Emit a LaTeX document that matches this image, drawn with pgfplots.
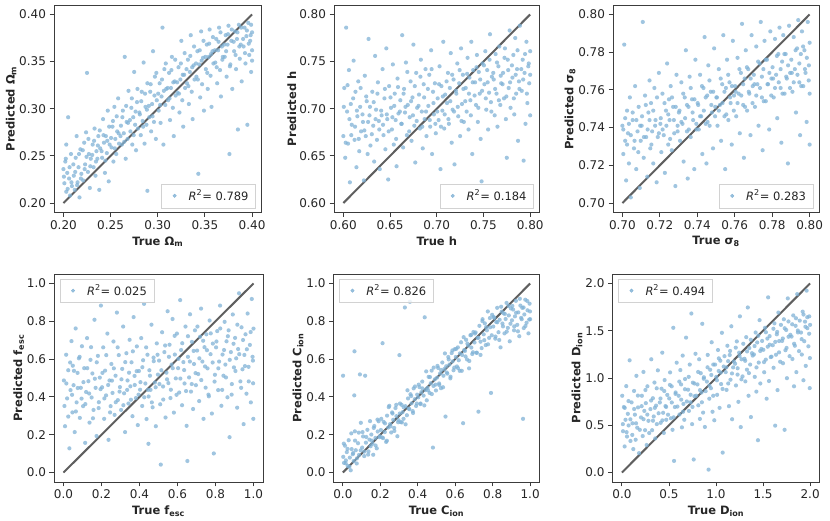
\documentclass[border=0pt]{standalone}
\usepackage{fontspec}
\setmainfont{DejaVu Sans}
\usepackage{pgfplots}
\pgfplotsset{compat=1.18}
\definecolor{ptcol}{RGB}{128,178,214}
\definecolor{spinecol}{RGB}{60,60,60}
\definecolor{labelcol}{RGB}{38,38,38}
\definecolor{linecol}{RGB}{95,95,95}
\definecolor{legedge}{RGB}{210,210,210}
\pgfplotsset{
  panel/.style={
    scale only axis, height=207.5pt,
    axis line style={spinecol, line width=0.9pt},
    tick style={spinecol, line width=0.9pt},
    major tick length=4.5pt, tick align=outside,
    xtick pos=bottom, ytick pos=left,
    ticklabel style={font=\fontsize{12}{13}\selectfont, text=labelcol},
    label style={font=\bfseries\fontsize{11.5}{13}\selectfont, text=labelcol},
    ylabel shift=-4pt,
    /pgf/number format/assume math mode=true,
    /pgf/number format/fixed, /pgf/number format/fixed zerofill,
    legend cell align=left,
    legend style={draw=legedge, fill=white, fill opacity=0.8, text opacity=1,
      font=\fontsize{11.5}{13}\selectfont, text=labelcol, inner xsep=3pt, inner ysep=2pt,
      nodes={inner xsep=4pt, inner ysep=4pt}},
    legend image code/.code={\path[draw=none,fill=none] (0pt,0pt) (20pt,0pt); \fill[ptcol] (10pt,0pt) circle (1.7pt);},
  },
  pts/.style={only marks, mark=*, color=ptcol, mark size=2.1pt, mark options={draw opacity=0, fill=ptcol, fill opacity=0.75}},
  diag/.style={forget plot, color=linecol, line width=2pt},
  legbr/.style={legend style={at={(0.972,0.022)}, anchor=south east}},
  legtl/.style={legend style={at={(0.028,0.978)}, anchor=north west}},
}
\begin{document}
\begin{tikzpicture}
\useasboundingbox (0pt,0pt) rectangle (830pt,521pt);
% ---------------- Panel 1 ----------------
\begin{axis}[panel, legbr, at={(54pt,308.5pt)}, anchor=south west, width=207.5pt,
  xmin=0.19, xmax=0.41, ymin=0.19, ymax=0.41,
  xtick={0.20,0.25,0.30,0.35,0.40}, ytick={0.20,0.25,0.30,0.35,0.40},
  /pgf/number format/precision=2,
  xlabel={True Ω\textsubscript{m}}, ylabel={Predicted Ω\textsubscript{m}}]
\addplot[pts] table {
x y
0.201 0.221
0.202 0.244
0.203 0.212
0.204 0.232
0.205 0.291
0.206 0.226
0.207 0.208
0.208 0.252
0.209 0.218
0.200 0.236
0.203 0.262
0.211 0.229
0.212 0.214
0.213 0.248
0.214 0.271
0.215 0.222
0.216 0.238
0.217 0.206
0.218 0.257
0.219 0.231
0.221 0.224
0.222 0.264
0.223 0.241
0.224 0.275
0.225 0.338
0.226 0.233
0.227 0.252
0.228 0.216
0.229 0.247
0.231 0.262
0.232 0.238
0.233 0.279
0.234 0.229
0.235 0.255
0.236 0.247
0.237 0.271
0.238 0.214
0.239 0.258
0.241 0.248
0.242 0.289
0.243 0.264
0.244 0.232
0.245 0.271
0.246 0.253
0.247 0.298
0.248 0.223
0.249 0.262
0.251 0.259
0.252 0.281
0.253 0.244
0.254 0.302
0.255 0.268
0.256 0.252
0.257 0.276
0.258 0.311
0.259 0.263
0.261 0.282
0.262 0.262
0.263 0.298
0.264 0.274
0.265 0.355
0.266 0.247
0.267 0.286
0.268 0.268
0.269 0.319
0.271 0.276
0.272 0.301
0.273 0.262
0.274 0.291
0.275 0.339
0.276 0.283
0.277 0.256
0.278 0.307
0.279 0.279
0.281 0.294
0.282 0.272
0.283 0.318
0.284 0.287
0.285 0.349
0.286 0.263
0.287 0.302
0.288 0.283
0.289 0.213
0.289 0.327
0.291 0.291
0.292 0.318
0.293 0.276
0.294 0.305
0.295 0.361
0.296 0.286
0.297 0.334
0.298 0.268
0.299 0.309
0.301 0.298
0.302 0.327
0.303 0.285
0.304 0.313
0.305 0.386
0.306 0.262
0.307 0.342
0.308 0.304
0.309 0.321
0.311 0.309
0.312 0.338
0.313 0.288
0.314 0.322
0.315 0.355
0.316 0.301
0.317 0.271
0.318 0.329
0.319 0.314
0.321 0.317
0.322 0.344
0.323 0.296
0.324 0.331
0.325 0.372
0.326 0.309
0.327 0.281
0.328 0.336
0.329 0.322
0.331 0.327
0.332 0.352
0.333 0.305
0.334 0.339
0.335 0.378
0.336 0.318
0.337 0.289
0.338 0.346
0.339 0.331
0.341 0.334
0.342 0.361
0.343 0.231
0.344 0.347
0.345 0.312
0.346 0.382
0.347 0.326
0.348 0.354
0.349 0.298
0.351 0.342
0.352 0.368
0.353 0.321
0.354 0.355
0.355 0.384
0.356 0.335
0.357 0.302
0.358 0.361
0.359 0.348
0.361 0.349
0.362 0.374
0.363 0.327
0.364 0.362
0.365 0.386
0.366 0.341
0.367 0.313
0.368 0.366
0.369 0.355
0.371 0.355
0.372 0.378
0.373 0.334
0.374 0.368
0.375 0.388
0.376 0.252
0.377 0.347
0.378 0.372
0.379 0.321
0.381 0.361
0.382 0.382
0.383 0.342
0.384 0.374
0.385 0.278
0.386 0.389
0.387 0.353
0.388 0.368
0.389 0.329
0.391 0.366
0.392 0.386
0.393 0.348
0.394 0.377
0.395 0.283
0.396 0.391
0.397 0.357
0.398 0.372
0.399 0.339
0.400 0.381
0.400 0.362
0.399 0.389
0.400 0.351
};
\addlegendentry{\textit{R}\textsuperscript{2}= 0.789}
\addplot[pts, forget plot] coordinates {
(0.2005,0.228) (0.2025,0.247) (0.2045,0.215) (0.2065,0.238) (0.2085,0.222) (0.2105,0.241) (0.2125,0.233) (0.2145,0.219) (0.2165,0.252) (0.2185,0.226)
(0.2205,0.256) (0.2225,0.236) (0.2245,0.249) (0.2265,0.268) (0.2285,0.239) (0.2305,0.251) (0.2325,0.266) (0.2345,0.244) (0.2365,0.261) (0.2385,0.277)
(0.2405,0.255) (0.2425,0.272) (0.2445,0.245) (0.2465,0.266) (0.2485,0.281) (0.2505,0.269) (0.2525,0.287) (0.2545,0.258) (0.2565,0.292) (0.2585,0.274)
(0.2605,0.271) (0.2625,0.291) (0.2645,0.265) (0.2665,0.303) (0.2685,0.285) (0.2705,0.288) (0.2725,0.311) (0.2745,0.272) (0.2765,0.297) (0.2785,0.321)
(0.2805,0.296) (0.2825,0.308) (0.2845,0.281) (0.2865,0.316) (0.2885,0.299) (0.2905,0.303) (0.2925,0.326) (0.2945,0.292) (0.2965,0.314) (0.2985,0.338)
(0.3005,0.316) (0.3025,0.304) (0.3045,0.331) (0.3065,0.319) (0.3085,0.348) (0.3105,0.322) (0.3125,0.311) (0.3145,0.341) (0.3165,0.328) (0.3185,0.352)
(0.3205,0.328) (0.3225,0.316) (0.3245,0.348) (0.3265,0.336) (0.3285,0.359) (0.3305,0.342) (0.3325,0.324) (0.3345,0.356) (0.3365,0.344) (0.3385,0.366)
(0.3405,0.348) (0.3425,0.331) (0.3445,0.362) (0.3465,0.351) (0.3485,0.372) (0.3505,0.355) (0.3525,0.338) (0.3545,0.369) (0.3565,0.358) (0.3585,0.376)
(0.3605,0.362) (0.3625,0.344) (0.3645,0.371) (0.3665,0.381) (0.3685,0.352) (0.3705,0.368) (0.3725,0.361) (0.3745,0.379) (0.3765,0.345) (0.3785,0.384)
(0.3805,0.371) (0.3825,0.357) (0.3845,0.381) (0.3865,0.366) (0.3885,0.386) (0.3905,0.374) (0.3925,0.359) (0.3945,0.383) (0.3965,0.369) (0.3985,0.378)
};
\addplot[diag] coordinates {(0.2,0.2) (0.4,0.4)};
\end{axis}
% ---------------- Panel 2 ----------------
\begin{axis}[panel, legbr, at={(334pt,308.5pt)}, anchor=south west, width=205.5pt,
  xmin=0.59, xmax=0.81, ymin=0.59, ymax=0.81,
  xtick={0.60,0.65,0.70,0.75,0.80}, ytick={0.60,0.65,0.70,0.75,0.80},
  /pgf/number format/precision=2,
  xlabel={True h}, ylabel={Predicted h}]
\addplot[pts] table {
x y
0.600 0.671
0.601 0.722
0.602 0.648
0.603 0.786
0.604 0.697
0.605 0.663
0.606 0.741
0.607 0.622
0.608 0.705
0.609 0.683
0.611 0.751
0.612 0.667
0.613 0.718
0.614 0.638
0.615 0.692
0.616 0.729
0.617 0.655
0.618 0.702
0.619 0.676
0.621 0.686
0.622 0.624
0.623 0.735
0.624 0.671
0.625 0.708
0.626 0.652
0.627 0.774
0.628 0.693
0.629 0.661
0.631 0.718
0.632 0.682
0.633 0.644
0.634 0.756
0.635 0.699
0.636 0.667
0.637 0.728
0.638 0.687
0.639 0.636
0.641 0.693
0.642 0.742
0.643 0.672
0.644 0.711
0.645 0.657
0.646 0.764
0.647 0.689
0.648 0.625
0.649 0.724
0.651 0.701
0.652 0.678
0.653 0.747
0.654 0.662
0.655 0.716
0.656 0.688
0.657 0.639
0.658 0.732
0.659 0.695
0.661 0.709
0.662 0.684
0.663 0.778
0.664 0.659
0.665 0.721
0.666 0.696
0.667 0.749
0.668 0.672
0.669 0.704
0.671 0.691
0.672 0.729
0.673 0.666
0.674 0.712
0.675 0.768
0.676 0.682
0.677 0.643
0.678 0.738
0.679 0.701
0.681 0.715
0.682 0.679
0.683 0.752
0.684 0.697
0.685 0.658
0.686 0.726
0.687 0.689
0.688 0.742
0.689 0.671
0.691 0.703
0.692 0.736
0.693 0.681
0.694 0.762
0.695 0.652
0.696 0.718
0.697 0.694
0.698 0.727
0.699 0.674
0.701 0.711
0.702 0.688
0.703 0.745
0.704 0.636
0.705 0.724
0.706 0.698
0.707 0.771
0.708 0.679
0.709 0.715
0.711 0.706
0.712 0.738
0.713 0.684
0.714 0.722
0.715 0.759
0.716 0.664
0.717 0.699
0.718 0.731
0.719 0.641
0.721 0.716
0.722 0.748
0.723 0.692
0.724 0.727
0.725 0.671
0.726 0.764
0.727 0.705
0.728 0.736
0.729 0.686
0.731 0.722
0.732 0.697
0.733 0.754
0.734 0.678
0.735 0.733
0.736 0.709
0.737 0.771
0.738 0.652
0.739 0.741
0.741 0.728
0.742 0.704
0.743 0.757
0.744 0.686
0.745 0.739
0.746 0.716
0.747 0.668
0.748 0.623
0.749 0.748
0.751 0.726
0.752 0.761
0.753 0.699
0.754 0.741
0.755 0.678
0.756 0.717
0.757 0.779
0.758 0.707
0.759 0.734
0.761 0.731
0.762 0.693
0.763 0.758
0.764 0.716
0.765 0.681
0.766 0.745
0.767 0.766
0.768 0.704
0.769 0.727
0.771 0.738
0.772 0.711
0.773 0.764
0.774 0.689
0.775 0.648
0.776 0.752
0.777 0.722
0.778 0.783
0.779 0.701
0.781 0.733
0.782 0.757
0.783 0.694
0.784 0.775
0.785 0.716
0.786 0.742
0.787 0.666
0.788 0.729
0.789 0.788
0.791 0.719
0.792 0.752
0.793 0.645
0.794 0.738
0.795 0.684
0.796 0.771
0.797 0.706
0.798 0.745
0.799 0.727
0.800 0.761
0.800 0.693
0.800 0.736
};
\addlegendentry{\textit{R}\textsuperscript{2}= 0.184}
\addplot[pts, forget plot] coordinates {
(0.6005,0.702) (0.6025,0.664) (0.6045,0.725) (0.6065,0.689) (0.6085,0.672) (0.6105,0.711) (0.6125,0.681) (0.6145,0.698) (0.6165,0.668) (0.6185,0.722)
(0.6205,0.694) (0.6225,0.677) (0.6245,0.713) (0.6265,0.686) (0.6285,0.702) (0.6305,0.673) (0.6325,0.707) (0.6345,0.689) (0.6365,0.716) (0.6385,0.678)
(0.6405,0.698) (0.6425,0.683) (0.6445,0.721) (0.6465,0.694) (0.6485,0.676) (0.6505,0.712) (0.6525,0.691) (0.6545,0.703) (0.6565,0.668) (0.6585,0.723)
(0.6605,0.697) (0.6625,0.684) (0.6645,0.716) (0.6665,0.702) (0.6685,0.739) (0.6705,0.676) (0.6725,0.708) (0.6745,0.693) (0.6765,0.724) (0.6785,0.687)
(0.6805,0.703) (0.6825,0.734) (0.6845,0.681) (0.6865,0.712) (0.6885,0.697) (0.6905,0.721) (0.6925,0.688) (0.6945,0.742) (0.6965,0.706) (0.6985,0.684)
(0.7005,0.697) (0.7025,0.726) (0.7045,0.681) (0.7065,0.713) (0.7085,0.694) (0.7105,0.729) (0.7125,0.689) (0.7145,0.708) (0.7165,0.736) (0.7185,0.697)
(0.7205,0.719) (0.7225,0.702) (0.7245,0.741) (0.7265,0.687) (0.7285,0.721) (0.7305,0.708) (0.7325,0.737) (0.7345,0.716) (0.7365,0.693) (0.7385,0.728)
(0.7405,0.714) (0.7425,0.744) (0.7445,0.701) (0.7465,0.731) (0.7485,0.719) (0.7505,0.746) (0.7525,0.711) (0.7545,0.728) (0.7565,0.752) (0.7585,0.697)
(0.7605,0.738) (0.7625,0.721) (0.7645,0.749) (0.7665,0.709) (0.7685,0.735) (0.7705,0.726) (0.7725,0.754) (0.7745,0.713) (0.7765,0.741) (0.7785,0.728)
(0.7805,0.746) (0.7825,0.711) (0.7845,0.736) (0.7865,0.762) (0.7885,0.721) (0.7905,0.742) (0.7925,0.731) (0.7945,0.758) (0.7965,0.716) (0.7985,0.748)
};
\addplot[diag] coordinates {(0.6,0.6) (0.8,0.8)};
\end{axis}
% ---------------- Panel 3 ----------------
\begin{axis}[panel, legbr, at={(613pt,308.5pt)}, anchor=south west, width=206pt,
  xmin=0.695, xmax=0.805, ymin=0.695, ymax=0.805,
  xtick={0.70,0.72,0.74,0.76,0.78,0.80}, ytick={0.70,0.72,0.74,0.76,0.78,0.80},
  /pgf/number format/precision=2,
  xlabel={True σ\textsubscript{8}}, ylabel={Predicted σ\textsubscript{8}}]
\addplot[pts] table {
x y
0.7000 0.741
0.7005 0.726
0.7010 0.784
0.7015 0.733
0.7020 0.712
0.7025 0.749
0.7030 0.737
0.7035 0.721
0.7040 0.756
0.7045 0.703
0.7055 0.744
0.7062 0.729
0.7068 0.762
0.7074 0.718
0.7081 0.738
0.7087 0.751
0.7093 0.708
0.7098 0.733
0.7103 0.741
0.7109 0.796
0.7114 0.724
0.7121 0.757
0.7127 0.735
0.7133 0.714
0.7139 0.748
0.7145 0.765
0.7149 0.729
0.7153 0.753
0.7159 0.738
0.7165 0.721
0.7171 0.761
0.7177 0.744
0.7183 0.711
0.7189 0.735
0.7195 0.769
0.7203 0.742
0.7208 0.727
0.7214 0.758
0.7221 0.736
0.7227 0.716
0.7233 0.749
0.7239 0.774
0.7245 0.731
0.7249 0.755
0.7252 0.744
0.7258 0.762
0.7264 0.728
0.7271 0.751
0.7277 0.737
0.7283 0.709
0.7289 0.768
0.7295 0.741
0.7302 0.748
0.7308 0.733
0.7315 0.764
0.7321 0.742
0.7327 0.722
0.7333 0.756
0.7339 0.781
0.7345 0.738
0.7349 0.713
0.7353 0.751
0.7359 0.767
0.7365 0.735
0.7372 0.755
0.7378 0.744
0.7384 0.718
0.7390 0.776
0.7396 0.739
0.7402 0.753
0.7408 0.739
0.7415 0.768
0.7421 0.746
0.7427 0.726
0.7433 0.761
0.7439 0.788
0.7445 0.742
0.7449 0.721
0.7453 0.757
0.7459 0.773
0.7466 0.741
0.7472 0.759
0.7478 0.748
0.7484 0.729
0.7490 0.782
0.7496 0.751
0.7502 0.756
0.7508 0.741
0.7515 0.771
0.7521 0.752
0.7527 0.733
0.7533 0.763
0.7539 0.789
0.7545 0.746
0.7549 0.718
0.7553 0.761
0.7559 0.776
0.7566 0.744
0.7572 0.764
0.7578 0.753
0.7584 0.731
0.7590 0.786
0.7596 0.757
0.7602 0.762
0.7608 0.746
0.7615 0.777
0.7621 0.758
0.7627 0.737
0.7633 0.769
0.7639 0.795
0.7645 0.752
0.7649 0.724
0.7653 0.766
0.7659 0.781
0.7666 0.749
0.7672 0.771
0.7678 0.758
0.7684 0.736
0.7690 0.789
0.7696 0.762
0.7702 0.768
0.7708 0.751
0.7715 0.783
0.7721 0.763
0.7727 0.741
0.7733 0.774
0.7739 0.796
0.7745 0.756
0.7749 0.728
0.7753 0.771
0.7759 0.786
0.7766 0.754
0.7772 0.776
0.7778 0.763
0.7784 0.739
0.7790 0.791
0.7796 0.766
0.7802 0.772
0.7808 0.756
0.7815 0.787
0.7821 0.768
0.7827 0.745
0.7833 0.779
0.7839 0.793
0.7845 0.761
0.7849 0.732
0.7853 0.775
0.7859 0.789
0.7866 0.758
0.7872 0.779
0.7878 0.766
0.7884 0.721
0.7890 0.794
0.7896 0.769
0.7902 0.776
0.7908 0.759
0.7915 0.788
0.7921 0.771
0.7927 0.748
0.7933 0.782
0.7939 0.797
0.7945 0.764
0.7949 0.736
0.7953 0.779
0.7959 0.791
0.7966 0.762
0.7972 0.781
0.7978 0.769
0.7984 0.743
0.7990 0.796
0.7996 0.773
0.8000 0.785
0.8000 0.758
0.8000 0.731
};
\addlegendentry{\textit{R}\textsuperscript{2}= 0.283}
\addplot[pts, forget plot] coordinates {
(0.7005,0.739) (0.7015,0.745) (0.7025,0.731) (0.7035,0.742) (0.7045,0.736) (0.7055,0.748) (0.7065,0.733) (0.7075,0.744) (0.7085,0.727) (0.7095,0.741)
(0.7105,0.746) (0.7115,0.735) (0.7125,0.752) (0.7135,0.739) (0.7145,0.744) (0.7155,0.731) (0.7165,0.749) (0.7175,0.741) (0.7185,0.756) (0.7195,0.737)
(0.7205,0.745) (0.7215,0.739) (0.7225,0.753) (0.7235,0.741) (0.7245,0.747) (0.7255,0.734) (0.7265,0.756) (0.7275,0.744) (0.7285,0.751) (0.7295,0.738)
(0.7305,0.749) (0.7315,0.743) (0.7325,0.758) (0.7335,0.745) (0.7345,0.752) (0.7355,0.739) (0.7365,0.761) (0.7375,0.748) (0.7385,0.755) (0.7395,0.742)
(0.7405,0.752) (0.7415,0.746) (0.7425,0.762) (0.7435,0.749) (0.7445,0.756) (0.7455,0.743) (0.7465,0.765) (0.7475,0.752) (0.7485,0.759) (0.7495,0.746)
(0.7505,0.756) (0.7515,0.749) (0.7525,0.766) (0.7535,0.753) (0.7545,0.759) (0.7555,0.747) (0.7565,0.768) (0.7575,0.756) (0.7585,0.762) (0.7595,0.749)
(0.7605,0.759) (0.7615,0.753) (0.7625,0.771) (0.7635,0.757) (0.7645,0.763) (0.7655,0.751) (0.7665,0.772) (0.7675,0.759) (0.7685,0.766) (0.7695,0.753)
(0.7705,0.763) (0.7715,0.757) (0.7725,0.775) (0.7735,0.761) (0.7745,0.767) (0.7755,0.754) (0.7765,0.776) (0.7775,0.763) (0.7785,0.769) (0.7795,0.757)
(0.7805,0.766) (0.7815,0.761) (0.7825,0.778) (0.7835,0.764) (0.7845,0.771) (0.7855,0.758) (0.7865,0.779) (0.7875,0.767) (0.7885,0.773) (0.7895,0.761)
(0.7905,0.769) (0.7915,0.764) (0.7925,0.781) (0.7935,0.768) (0.7945,0.774) (0.7955,0.762) (0.7965,0.783) (0.7975,0.771) (0.7985,0.777) (0.7995,0.765)
};
\addplot[diag] coordinates {(0.7,0.7) (0.8,0.8)};
\end{axis}
% ---------------- Panel 4 ----------------
\begin{axis}[panel, legtl, at={(54pt,39pt)}, anchor=south west, width=209pt, height=208pt,
  xmin=-0.05, xmax=1.05, ymin=-0.05, ymax=1.05,
  xtick={0,0.2,0.4,0.6,0.8,1.0}, ytick={0,0.2,0.4,0.6,0.8,1.0},
  /pgf/number format/precision=1,
  xlabel={True f\textsubscript{esc}}, ylabel={Predicted f\textsubscript{esc}}]
\addplot[pts] table {
x y
0.002 0.487
0.008 0.245
0.014 0.623
0.019 0.392
0.025 0.541
0.031 0.128
0.037 0.436
0.042 0.695
0.047 0.318
0.049 0.565
0.053 0.462
0.059 0.214
0.064 0.762
0.069 0.371
0.074 0.527
0.081 0.604
0.086 0.289
0.091 0.448
0.097 0.668
0.103 0.351
0.109 0.552
0.114 0.157
0.119 0.426
0.124 0.711
0.131 0.483
0.137 0.264
0.142 0.596
0.148 0.397
0.152 0.524
0.158 0.331
0.163 0.808
0.169 0.448
0.174 0.193
0.181 0.617
0.186 0.372
0.191 0.502
0.197 0.883
0.203 0.451
0.209 0.662
0.214 0.284
0.219 0.539
0.224 0.408
0.231 0.735
0.237 0.173
0.242 0.487
0.248 0.351
0.252 0.574
0.258 0.421
0.263 0.693
0.269 0.305
0.274 0.512
0.281 0.846
0.286 0.383
0.291 0.621
0.297 0.452
0.303 0.331
0.309 0.548
0.314 0.772
0.319 0.419
0.324 0.214
0.331 0.631
0.337 0.487
0.342 0.365
0.348 0.702
0.352 0.456
0.358 0.583
0.363 0.298
0.369 0.822
0.374 0.511
0.381 0.394
0.386 0.667
0.391 0.251
0.397 0.537
0.403 0.438
0.409 0.711
0.414 0.352
0.419 0.594
0.424 0.892
0.431 0.471
0.437 0.283
0.442 0.623
0.448 0.402
0.447 0.152
0.452 0.541
0.458 0.437
0.463 0.782
0.469 0.345
0.474 0.608
0.481 0.476
0.486 0.245
0.491 0.683
0.497 0.518
0.503 0.592
0.509 0.361
0.512 0.042
0.519 0.742
0.524 0.455
0.531 0.637
0.537 0.291
0.542 0.528
0.548 0.853
0.552 0.473
0.558 0.676
0.563 0.394
0.569 0.571
0.574 0.812
0.581 0.317
0.586 0.624
0.591 0.498
0.597 0.735
0.603 0.552
0.609 0.423
0.614 0.912
0.619 0.648
0.624 0.356
0.631 0.584
0.637 0.471
0.642 0.772
0.648 0.247
0.652 0.061
0.655 0.612
0.661 0.503
0.666 0.837
0.671 0.428
0.676 0.691
0.682 0.336
0.687 0.574
0.692 0.752
0.697 0.462
0.703 0.645
0.709 0.521
0.714 0.378
0.719 0.718
0.724 0.867
0.731 0.587
0.737 0.284
0.742 0.663
0.748 0.449
0.752 0.731
0.758 0.551
0.763 0.412
0.769 0.804
0.774 0.626
0.781 0.312
0.786 0.682
0.791 0.101
0.797 0.517
0.803 0.662
0.809 0.748
0.814 0.436
0.819 0.587
0.824 0.883
0.831 0.353
0.837 0.624
0.842 0.512
0.848 0.797
0.852 0.571
0.858 0.694
0.863 0.398
0.869 0.752
0.874 0.187
0.881 0.637
0.886 0.468
0.891 0.836
0.897 0.556
0.903 0.712
0.909 0.604
0.914 0.343
0.919 0.653
0.924 0.948
0.931 0.482
0.937 0.768
0.942 0.546
0.948 0.256
0.952 0.622
0.958 0.731
0.963 0.417
0.969 0.841
0.974 0.559
0.981 0.675
0.986 0.371
0.991 0.918
0.997 0.592
0.999 0.284
1.000 0.761
0.998 0.472
};
\addlegendentry{\textit{R}\textsuperscript{2}= 0.025}
\addplot[pts, forget plot] coordinates {
(0.005,0.352) (0.015,0.471) (0.025,0.296) (0.035,0.582) (0.045,0.411) (0.055,0.538) (0.065,0.323) (0.075,0.447) (0.085,0.612) (0.095,0.391)
(0.105,0.478) (0.115,0.362) (0.125,0.552) (0.135,0.418) (0.145,0.663) (0.155,0.287) (0.165,0.496) (0.175,0.583) (0.185,0.341) (0.195,0.441)
(0.205,0.527) (0.215,0.392) (0.225,0.621) (0.235,0.463) (0.245,0.318) (0.255,0.486) (0.265,0.551) (0.275,0.372) (0.285,0.662) (0.295,0.428)
(0.305,0.493) (0.315,0.356) (0.325,0.584) (0.335,0.437) (0.345,0.528) (0.355,0.385) (0.365,0.641) (0.375,0.463) (0.385,0.536) (0.395,0.412)
(0.405,0.478) (0.415,0.557) (0.425,0.398) (0.435,0.662) (0.445,0.437) (0.455,0.512) (0.465,0.371) (0.475,0.589) (0.485,0.451) (0.495,0.623)
(0.505,0.468) (0.515,0.541) (0.525,0.386) (0.535,0.672) (0.545,0.493) (0.555,0.612) (0.565,0.438) (0.575,0.552) (0.585,0.723) (0.595,0.411)
(0.605,0.601) (0.615,0.497) (0.625,0.684) (0.635,0.542) (0.645,0.431) (0.655,0.721) (0.665,0.587) (0.675,0.468) (0.685,0.643) (0.695,0.526)
(0.705,0.772) (0.715,0.604) (0.725,0.489) (0.735,0.697) (0.745,0.561) (0.755,0.647) (0.765,0.403) (0.775,0.736) (0.785,0.582) (0.795,0.481)
(0.805,0.693) (0.815,0.551) (0.825,0.762) (0.835,0.437) (0.845,0.648) (0.855,0.503) (0.865,0.721) (0.875,0.596) (0.885,0.412) (0.895,0.681)
(0.905,0.537) (0.915,0.782) (0.925,0.626) (0.935,0.448) (0.945,0.701) (0.955,0.563) (0.965,0.652) (0.975,0.482) (0.985,0.743) (0.995,0.612)
};
\addplot[diag] coordinates {(0,0) (1,1)};
\end{axis}
% ---------------- Panel 5 ----------------
\begin{axis}[panel, legtl, at={(333.5pt,39pt)}, anchor=south west, width=206pt, height=208pt,
  xmin=-0.05, xmax=1.05, ymin=-0.05, ymax=1.05,
  xtick={0,0.2,0.4,0.6,0.8,1.0}, ytick={0,0.2,0.4,0.6,0.8,1.0},
  /pgf/number format/precision=1,
  xlabel={True C\textsubscript{ion}}, ylabel={Predicted C\textsubscript{ion}}]
\addplot[pts] table {
x y
0.002 0.083
0.006 0.051
0.011 0.142
0.016 0.064
0.021 0.108
0.026 0.035
0.031 0.171
0.037 0.079
0.042 0.012
0.047 0.124
0.001 0.512
0.053 0.097
0.058 0.061
0.062 0.641
0.064 0.218
0.069 0.118
0.074 0.048
0.081 0.155
0.086 0.093
0.091 0.519
0.096 0.263
0.061 0.408
0.103 0.132
0.108 0.191
0.114 0.087
0.119 0.512
0.123 0.158
0.131 0.226
0.137 0.112
0.142 0.174
0.148 0.139
0.152 0.201
0.158 0.152
0.162 0.094
0.168 0.246
0.174 0.183
0.181 0.128
0.186 0.217
0.191 0.271
0.197 0.192
0.203 0.225
0.209 0.186
0.212 0.684
0.218 0.268
0.224 0.214
0.231 0.162
0.236 0.301
0.242 0.238
0.248 0.353
0.252 0.256
0.258 0.212
0.263 0.318
0.269 0.279
0.274 0.236
0.281 0.341
0.286 0.298
0.291 0.192
0.297 0.277
0.302 0.621
0.304 0.312
0.309 0.267
0.314 0.358
0.319 0.319
0.324 0.284
0.331 0.873
0.334 0.351
0.342 0.303
0.348 0.392
0.352 0.338
0.358 0.903
0.361 0.414
0.367 0.366
0.373 0.325
0.378 0.445
0.384 0.388
0.391 0.352
0.397 0.412
0.403 0.398
0.409 0.452
0.414 0.362
0.419 0.425
0.424 0.481
0.431 0.407
0.437 0.821
0.442 0.436
0.448 0.382
0.452 0.448
0.458 0.506
0.463 0.421
0.469 0.472
0.474 0.539
0.481 0.132
0.484 0.458
0.491 0.493
0.497 0.434
0.503 0.502
0.509 0.553
0.514 0.471
0.519 0.524
0.524 0.446
0.531 0.582
0.537 0.512
0.542 0.548
0.548 0.296
0.552 0.562
0.558 0.523
0.563 0.611
0.569 0.571
0.574 0.498
0.581 0.632
0.586 0.588
0.591 0.541
0.597 0.652
0.603 0.611
0.609 0.561
0.614 0.662
0.619 0.594
0.624 0.538
0.631 0.689
0.637 0.622
0.642 0.261
0.648 0.648
0.652 0.643
0.658 0.702
0.663 0.598
0.669 0.671
0.674 0.551
0.681 0.726
0.686 0.661
0.691 0.627
0.697 0.743
0.703 0.688
0.709 0.741
0.714 0.633
0.719 0.712
0.724 0.322
0.729 0.776
0.735 0.692
0.741 0.658
0.746 0.811
0.752 0.731
0.758 0.789
0.763 0.674
0.769 0.752
0.774 0.852
0.781 0.712
0.786 0.768
0.791 0.421
0.797 0.834
0.803 0.772
0.809 0.818
0.814 0.708
0.819 0.796
0.824 0.871
0.831 0.742
0.837 0.808
0.842 0.662
0.848 0.851
0.852 0.788
0.858 0.842
0.863 0.736
0.869 0.812
0.874 0.897
0.881 0.765
0.886 0.831
0.891 0.694
0.897 0.868
0.903 0.805
0.909 0.862
0.914 0.752
0.919 0.826
0.924 0.908
0.931 0.781
0.937 0.847
0.942 0.721
0.948 0.883
0.952 0.818
0.958 0.871
0.962 0.284
0.966 0.764
0.969 0.836
0.974 0.914
0.981 0.792
0.986 0.858
0.991 0.736
0.997 0.893
1.000 0.811
0.999 0.852
};
\addlegendentry{\textit{R}\textsuperscript{2}= 0.826}
\addplot[pts, forget plot] coordinates {
(0.005,0.153) (0.015,0.049) (0.025,0.125) (0.035,0.031) (0.045,0.207) (0.055,0.103) (0.065,0.169) (0.075,0.075) (0.085,0.211) (0.095,0.117)
(0.105,0.214) (0.115,0.111) (0.125,0.188) (0.135,0.095) (0.145,0.272) (0.155,0.169) (0.165,0.236) (0.175,0.143) (0.185,0.280) (0.195,0.187)
(0.205,0.284) (0.215,0.182) (0.225,0.260) (0.235,0.168) (0.245,0.346) (0.255,0.244) (0.265,0.312) (0.275,0.220) (0.285,0.358) (0.295,0.266)
(0.305,0.365) (0.315,0.265) (0.325,0.345) (0.335,0.255) (0.345,0.435) (0.355,0.335) (0.365,0.405) (0.375,0.315) (0.385,0.455) (0.395,0.365)
(0.405,0.465) (0.415,0.365) (0.425,0.445) (0.435,0.355) (0.445,0.535) (0.455,0.435) (0.465,0.505) (0.475,0.415) (0.485,0.555) (0.495,0.465)
(0.505,0.564) (0.515,0.463) (0.525,0.542) (0.535,0.451) (0.545,0.630) (0.555,0.529) (0.565,0.598) (0.575,0.507) (0.585,0.646) (0.595,0.555)
(0.605,0.654) (0.615,0.552) (0.625,0.630) (0.635,0.538) (0.645,0.716) (0.655,0.614) (0.665,0.682) (0.675,0.590) (0.685,0.728) (0.695,0.636)
(0.705,0.735) (0.715,0.634) (0.725,0.713) (0.735,0.622) (0.745,0.801) (0.755,0.700) (0.765,0.769) (0.775,0.678) (0.785,0.817) (0.795,0.726)
(0.805,0.823) (0.815,0.719) (0.825,0.795) (0.835,0.701) (0.845,0.877) (0.855,0.773) (0.865,0.839) (0.875,0.745) (0.885,0.881) (0.895,0.787)
(0.905,0.881) (0.915,0.773) (0.925,0.845) (0.935,0.747) (0.945,0.919) (0.955,0.811) (0.965,0.873) (0.975,0.775) (0.985,0.907) (0.995,0.809)
};
\addplot[diag] coordinates {(0,0) (1,1)};
\end{axis}
% ---------------- Panel 6 ----------------
\begin{axis}[panel, legtl, at={(612.5pt,39pt)}, anchor=south west, width=207pt, height=208pt,
  xmin=-0.1, xmax=2.1, ymin=-0.1, ymax=2.1,
  xtick={0,0.5,1.0,1.5,2.0}, ytick={0,0.5,1.0,1.5,2.0},
  /pgf/number format/precision=1,
  xlabel={True D\textsubscript{ion}}, ylabel={Predicted D\textsubscript{ion}}]
\addplot[pts] table {
x y
0.003 0.812
0.012 0.437
0.021 0.693
0.029 0.276
0.038 0.558
0.046 0.914
0.054 0.381
0.063 0.621
0.071 0.498
0.082 1.187
0.091 0.334
0.103 0.742
0.112 0.521
0.121 0.248
0.129 0.863
0.138 0.612
0.146 0.347
0.154 1.023
0.163 0.474
0.171 0.689
0.182 0.205
0.203 0.583
0.212 0.812
0.221 0.386
0.229 1.064
0.238 0.652
0.246 0.448
0.254 0.734
0.263 0.291
0.271 0.912
0.282 0.547
0.303 0.671
0.312 1.198
0.321 0.448
0.329 0.786
0.338 0.593
0.346 0.952
0.354 0.361
0.363 0.708
0.371 0.512
0.382 1.081
0.403 0.741
0.412 0.526
0.421 0.887
0.429 1.268
0.438 0.632
0.446 0.419
0.454 0.978
0.463 0.703
0.471 0.558
0.482 0.821
0.503 0.784
0.512 1.059
0.521 0.574
0.529 0.912
0.538 0.452
0.546 1.531
0.554 0.123
0.563 0.693
0.571 0.847
0.582 1.162
0.603 0.812
0.612 0.614
0.621 1.084
0.629 0.932
0.638 0.478
0.646 1.237
0.654 0.726
0.663 0.558
0.671 0.989
0.682 1.427
0.703 0.876
0.712 0.652
0.721 1.142
0.729 0.743
0.738 1.682
0.746 0.512
0.754 0.951
0.763 0.138
0.771 0.807
0.782 1.256
0.803 0.932
0.812 0.711
0.821 1.198
0.829 0.567
0.838 1.051
0.846 0.846
0.854 1.573
0.863 0.634
0.871 1.008
0.882 0.482
0.903 0.962
0.912 1.244
0.921 0.031
0.929 0.781
0.938 1.087
0.946 0.892
0.954 1.378
0.963 0.643
0.971 1.142
0.982 0.553
1.003 1.012
1.012 0.822
1.021 1.296
1.029 1.074
1.038 0.684
1.046 1.183
1.054 0.936
1.063 1.478
1.071 0.211
1.082 1.121
1.103 1.062
1.112 0.874
1.121 1.341
1.129 1.178
1.138 0.702
1.146 1.243
1.154 0.982
1.163 1.547
1.171 0.564
1.182 1.112
1.203 1.151
1.212 0.921
1.221 1.387
1.229 1.036
1.238 0.748
1.246 1.268
1.254 1.652
1.263 0.481
1.271 1.198
1.282 1.017
1.303 1.203
1.312 0.964
1.321 1.432
1.329 1.088
1.338 1.746
1.346 0.812
1.354 1.317
1.363 1.142
1.371 0.587
1.382 1.262
1.403 1.249
1.412 1.012
1.421 1.481
1.429 0.856
1.438 1.376
1.446 0.342
1.454 1.163
1.463 1.612
1.471 0.942
1.482 1.307
1.503 1.298
1.512 1.061
1.521 1.531
1.529 1.194
1.538 0.781
1.546 1.417
1.554 1.853
1.563 0.968
1.571 1.352
1.582 1.221
1.603 1.347
1.612 1.108
1.621 1.578
1.629 0.496
1.638 1.246
1.646 1.462
1.654 0.872
1.663 1.692
1.671 1.391
1.682 1.172
1.703 1.392
1.712 1.156
1.721 1.621
1.729 0.452
1.738 1.294
1.746 1.508
1.754 0.998
1.763 1.842
1.771 1.436
1.782 1.231
1.803 1.438
1.812 1.201
1.821 1.662
1.829 0.912
1.838 1.341
1.846 1.552
1.854 1.062
1.863 1.887
1.871 1.482
1.882 1.284
1.903 1.481
1.912 1.248
1.921 1.702
1.929 0.976
1.938 1.389
1.946 1.596
1.954 1.128
1.963 1.924
1.971 1.527
1.982 1.335
1.991 1.652
1.998 1.211
2.000 1.562
1.996 0.893
};
\addlegendentry{\textit{R}\textsuperscript{2}= 0.494}
\addplot[pts, forget plot] coordinates {
(0.01,0.512) (0.03,0.684) (0.05,0.427) (0.07,0.756) (0.09,0.563) (0.11,0.398) (0.13,0.672) (0.15,0.521) (0.17,0.814) (0.19,0.452)
(0.21,0.702) (0.23,0.564) (0.25,0.873) (0.27,0.613) (0.29,0.418) (0.31,0.762) (0.33,0.548) (0.35,0.684) (0.37,0.891) (0.39,0.627)
(0.41,0.783) (0.43,0.552) (0.45,0.862) (0.47,0.694) (0.49,0.612) (0.51,0.927) (0.53,0.741) (0.55,0.584) (0.57,0.832) (0.59,0.698)
(0.61,0.962) (0.63,0.771) (0.65,0.643) (0.67,0.881) (0.69,0.752) (0.71,1.012) (0.73,0.823) (0.75,0.694) (0.77,0.942) (0.79,0.813)
(0.81,1.064) (0.83,0.872) (0.85,0.743) (0.87,0.992) (0.89,0.861) (0.91,1.113) (0.93,0.918) (0.95,1.032) (0.97,0.812) (0.99,1.142)
(1.01,0.976) (1.03,1.208) (1.05,1.057) (1.07,0.884) (1.09,1.231) (1.11,1.112) (1.13,0.942) (1.15,1.286) (1.17,1.048) (1.19,1.174)
(1.21,1.321) (1.23,1.103) (1.25,1.232) (1.27,0.986) (1.29,1.362) (1.31,1.182) (1.33,1.281) (1.35,1.052) (1.37,1.404) (1.39,1.237)
(1.41,1.338) (1.43,1.112) (1.45,1.447) (1.47,1.286) (1.49,1.392) (1.51,1.168) (1.53,1.484) (1.55,1.331) (1.57,1.443) (1.59,1.226)
(1.61,1.521) (1.63,1.382) (1.65,1.487) (1.67,1.271) (1.69,1.562) (1.71,1.418) (1.73,1.526) (1.75,1.318) (1.77,1.598) (1.79,1.457)
(1.81,1.568) (1.83,1.362) (1.85,1.632) (1.87,1.502) (1.89,1.607) (1.91,1.411) (1.93,1.671) (1.95,1.542) (1.97,1.643) (1.99,1.468)
};
\addplot[diag] coordinates {(0,0) (2,2)};
\end{axis}
\end{tikzpicture}
\end{document}
